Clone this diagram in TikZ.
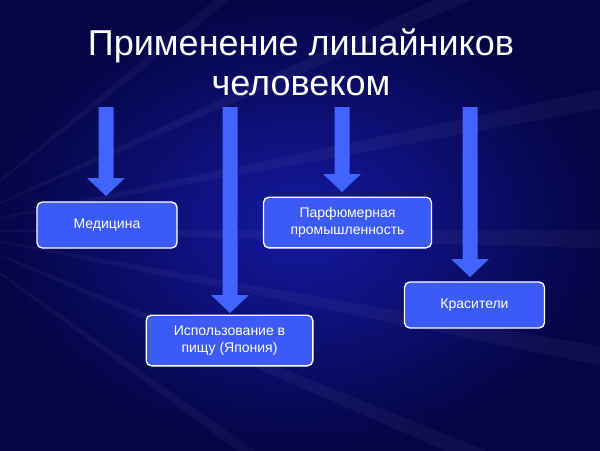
\documentclass[tikz,border=0pt]{standalone}
\usepackage{fontspec}
\setmainfont{Liberation Sans}
\usetikzlibrary{positioning}
\definecolor{bgdark}{RGB}{5,5,70}
\definecolor{bgmid}{RGB}{20,25,160}
\definecolor{boxblue}{RGB}{60,90,245}
\definecolor{arrblue}{RGB}{65,100,255}
\tikzset{every picture/.style={line width=0.75pt}}
\tikzset{
  itembox/.style={draw=white, line width=1pt, fill=boxblue, rounded corners=4pt,
    text=white, align=center, font=\fontsize{10.5}{12.5}\selectfont, minimum height=34.5pt},
  titletext/.style={text=white, align=center, font=\fontsize{27}{30}\selectfont}
}
% block arrow: x centre, top, bottom of head
\newcommand{\blockarrow}[3]{%
  \fill[arrblue] ({#1-7.5},#2) -- ({#1+7.5},#2) -- ({#1+7.5},{#3-18}) -- ({#1+19},{#3-18})
    -- (#1,#3) -- ({#1-19},{#3-18}) -- ({#1-7.5},{#3-18}) -- cycle;}

\begin{document}
\begin{tikzpicture}[x=0.75pt,y=0.75pt,yscale=-1,xscale=1]
	\useasboundingbox (0,0) rectangle (600,450);
	% background
	\shade[inner color=bgmid, outer color=bgdark] (0,0) rectangle (600,450);
	\foreach \a in {-40,-25,-12,0,10,22,35}
		\fill[white, opacity=0.04] (-60,230) -- ++(\a:900) -- ++({\a+90}:25) -- cycle;

	% title
	\node[titletext] (title) at (301,62) {Применение лишайников\\человеком};

	% arrows
	\blockarrow{106}{107}{196}
	\blockarrow{230}{107}{313}
	\blockarrow{342}{107}{192}
	\blockarrow{470}{107}{277}

	% boxes
	\node[itembox, minimum width=105pt] (med) at (107,225) {Медицина};
	\node[itembox, minimum width=125pt, minimum height=38pt] (food) at (229.5,340.5) {Использование в\\пищу (Япония)};
	\node[itembox, minimum width=126pt, minimum height=38pt] (perf) at (347.5,222.5) {Парфюмерная\\промышленность};
	\node[itembox, minimum width=105pt] (dye) at (474.5,305) {Красители};
\end{tikzpicture}
\end{document}
